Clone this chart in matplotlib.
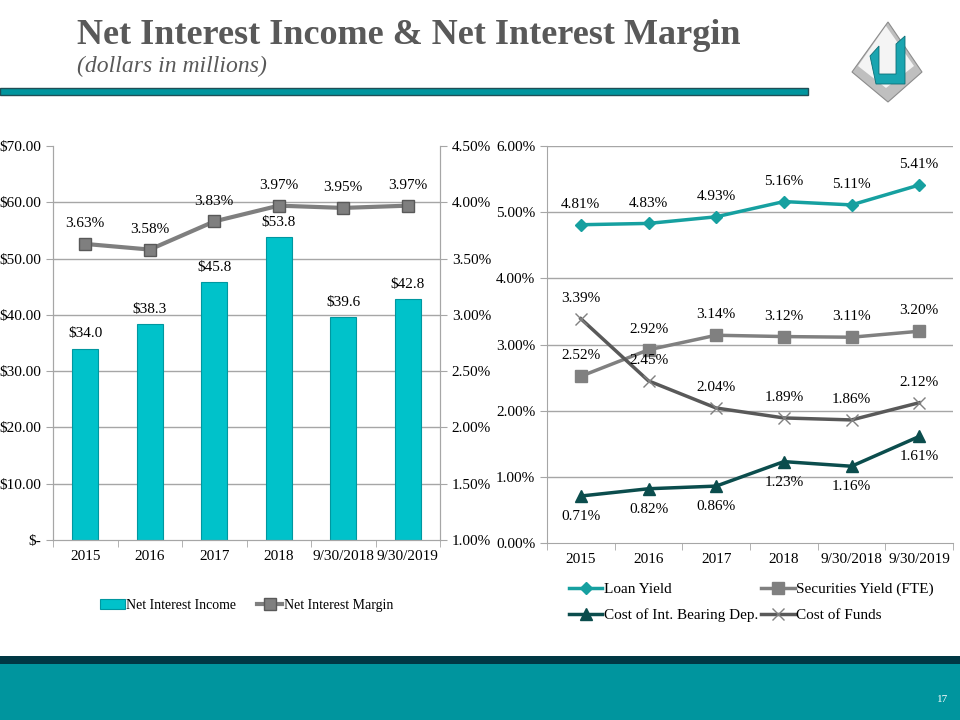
import matplotlib.pyplot as plt
from matplotlib.patches import Rectangle, Polygon

plt.rcParams['font.family'] = ['Liberation Serif', 'DejaVu Serif']

# data
periods = ['2015', '2016', '2017', '2018', '9/30/2018', '9/30/2019']
nii = [34.0, 38.3, 45.8, 53.8, 39.6, 42.8]
nim = [3.63, 3.58, 3.83, 3.97, 3.95, 3.97]

loan_yield = [4.81, 4.83, 4.93, 5.16, 5.11, 5.41]
sec_yield = [2.52, 2.92, 3.14, 3.12, 3.11, 3.20]
cost_ibd = [0.71, 0.82, 0.86, 1.23, 1.16, 1.61]
cost_funds = [3.39, 2.45, 2.04, 1.89, 1.86, 2.12]

left_ticks = [0, 10, 20, 30, 40, 50, 60, 70]
left_ticklabels = ['$-', '$10.00', '$20.00', '$30.00', '$40.00', '$50.00', '$60.00', '$70.00']
nim_ticks = [1.0, 1.5, 2.0, 2.5, 3.0, 3.5, 4.0, 4.5]
right_ticks = [0, 1, 2, 3, 4, 5, 6]

fig = plt.figure(figsize=(9.6, 7.2), dpi=100)

GRID = '#A6A6A6'
TEAL = '#00959E'
x = list(range(len(periods)))

# ---- slide decoration
fig.text(0.080, 1 - 35/720, 'Net Interest Income & Net Interest Margin', fontsize=26,
         fontweight='bold', color='#595959', va='center', ha='left')
fig.text(0.080, 1 - 66/720, '(dollars in millions)', fontsize=17, style='italic',
         color='#595959', va='center', ha='left')
fig.patches.append(Rectangle((0, 1 - 95/720), 808/960, 7/720, transform=fig.transFigure,
                             facecolor=TEAL, edgecolor='#1F4E56', lw=1))
# logo
def px(pts):
    return [(a/960, 1 - b/720) for a, b in pts]
fig.patches.append(Polygon(px([(888, 22), (922, 72), (888, 102), (852, 72)]), closed=True,
                           transform=fig.transFigure, facecolor='#BFBFBF', edgecolor='#8C8C8C', lw=0.8))
fig.patches.append(Polygon(px([(886, 26), (914, 66), (886, 88), (858, 66)]), closed=True,
                           transform=fig.transFigure, facecolor='#F4F4F4', edgecolor='none'))
fig.patches.append(Polygon(px([(870, 56), (879, 46), (879, 74), (896, 74), (896, 44), (905, 36),
                               (905, 84), (876, 84)]), closed=True,
                           transform=fig.transFigure, facecolor='#1AA5B0', edgecolor='#0B6D75', lw=0.6))
# footer
fig.patches.append(Rectangle((0, 0), 1, 56/720, transform=fig.transFigure, facecolor=TEAL, edgecolor='none'))
fig.patches.append(Rectangle((0, 56/720), 1, 8/720, transform=fig.transFigure, facecolor='#003844', edgecolor='none'))
fig.text(943/960, 1 - 700/720, '17', color='white', fontsize=8, ha='center', va='center')

# ---- left chart
ax = fig.add_axes([53/960, 0.25, 387/960, 394/720])
ax.bar(x, nii, width=0.4, color='#00C2CA', edgecolor='#0097A0', lw=0.8, zorder=2,
       label='Net Interest Income')
ax.set_xlim(-0.5, 5.5)
ax.set_ylim(0, 70)
ax.set_yticks(left_ticks)
ax.set_yticklabels(left_ticklabels)
for t in left_ticks[1:-1]:
    ax.axhline(t, color=GRID, lw=1, zorder=0)
for i, v in enumerate(nii):
    ax.annotate('$%.1f' % v, (i, v), xytext=(0, 6), textcoords='offset points',
                ha='center', va='bottom', fontsize=11)
ax.set_xticks(x)
ax.set_xticklabels(periods, fontsize=11)
ax.set_xticks([i + 0.5 for i in range(-1, 6)], minor=True)
ax.tick_params(axis='x', which='major', length=0, pad=7)
ax.tick_params(axis='x', which='minor', length=5, color=GRID)
ax.tick_params(axis='y', labelsize=11, color=GRID, length=5)
ax.spines['top'].set_visible(False)
for s in ['left', 'right', 'bottom']:
    ax.spines[s].set_color(GRID)

ax2 = ax.twinx()
ax2.plot(x, nim, color='#7F7F7F', lw=3, marker='s', markersize=8,
         markerfacecolor='#7F7F7F', markeredgecolor='#595959', zorder=3,
         label='Net Interest Margin')
ax2.set_ylim(1.0, 4.5)
ax2.set_yticks(nim_ticks)
ax2.set_yticklabels(['%.2f%%' % t for t in nim_ticks])
ax2.tick_params(axis='y', labelsize=11, color=GRID, length=5)
ax2.spines['top'].set_visible(False)
for s in ['left', 'right', 'bottom']:
    ax2.spines[s].set_color(GRID)
for i, v in enumerate(nim):
    ax2.annotate('%.2f%%' % v, (i, v), xytext=(0, 10), textcoords='offset points',
                 ha='center', va='bottom', fontsize=11)

h1, l1 = ax.get_legend_handles_labels()
h2, l2 = ax2.get_legend_handles_labels()
ax.legend(h1 + h2, l1 + l2, loc='center', bbox_to_anchor=(0.5, -0.165), ncol=2,
          frameon=False, fontsize=10, handlelength=1.8, handletextpad=0.1, columnspacing=1.5)

# ---- right chart
bx = fig.add_axes([547/960, 1 - 543/720, 406/960, 397/720])
bx.set_xlim(-0.5, 5.5)
bx.set_ylim(0, 6)
bx.set_yticks(right_ticks)
bx.set_yticklabels(['%.2f%%' % t for t in right_ticks])
for t in right_ticks[1:]:
    bx.axhline(t, color=GRID, lw=1, zorder=0)
l_loan, = bx.plot(x, loan_yield, color='#16A0A0', lw=2.5, marker='D', markersize=6,
                  label='Loan Yield', zorder=3)
l_sec, = bx.plot(x, sec_yield, color='#808080', lw=2.5, marker='s', markersize=8,
                 label='Securities Yield (FTE)', zorder=3)
l_ibd, = bx.plot(x, cost_ibd, color='#0B4D4D', lw=2.5, marker='^', markersize=8,
                 label='Cost of Int. Bearing Dep.', zorder=3)
l_fund, = bx.plot(x, cost_funds, color='#595959', lw=2.5, marker='x', markersize=8,
                  markeredgecolor='#808080', markeredgewidth=1, label='Cost of Funds', zorder=3)
for i in x:
    bx.annotate('%.2f%%' % loan_yield[i], (i, loan_yield[i]), xytext=(0, 10), textcoords='offset points',
                ha='center', va='bottom', fontsize=11)
    bx.annotate('%.2f%%' % sec_yield[i], (i, sec_yield[i]), xytext=(0, 10), textcoords='offset points',
                ha='center', va='bottom', fontsize=11)
    bx.annotate('%.2f%%' % cost_funds[i], (i, cost_funds[i]), xytext=(0, 10), textcoords='offset points',
                ha='center', va='bottom', fontsize=11)
    bx.annotate('%.2f%%' % cost_ibd[i], (i, cost_ibd[i]), xytext=(0, -10), textcoords='offset points',
                ha='center', va='top', fontsize=11)
bx.set_xticks(x)
bx.set_xticklabels(periods, fontsize=11)
bx.set_xticks([i + 0.5 for i in range(-1, 6)], minor=True)
bx.tick_params(axis='x', which='major', length=0, pad=7)
bx.tick_params(axis='x', which='minor', length=5, color=GRID)
bx.tick_params(axis='y', labelsize=11, color=GRID, length=5)
bx.spines['top'].set_visible(False)
bx.spines['right'].set_visible(False)
for s in ['left', 'bottom']:
    bx.spines[s].set_color(GRID)
handles = [l_loan, l_ibd, l_sec, l_fund]
bx.legend(handles, [h.get_label() for h in handles], loc='upper left', bbox_to_anchor=(0.02, -0.065),
          ncol=2, frameon=False, fontsize=11, handlelength=2.2, handletextpad=0.1,
          columnspacing=0.2, labelspacing=0.8)

fig.savefig('out.png', dpi=100)
